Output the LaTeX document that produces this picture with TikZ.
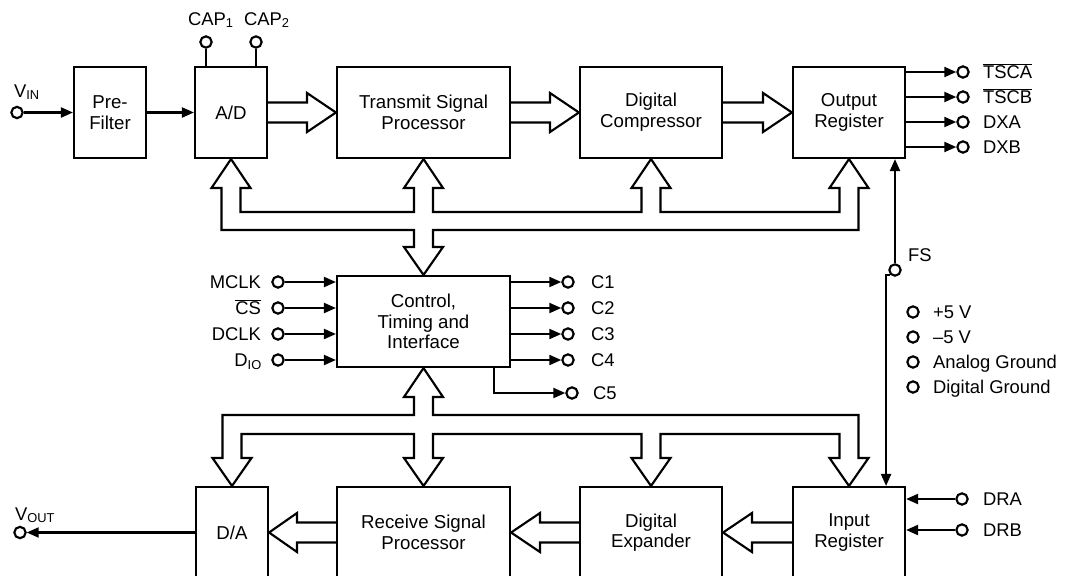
\documentclass[tikz,border=0pt]{standalone}
\usepackage{fontspec}
\setmainfont{Liberation Sans}
\usetikzlibrary{arrows.meta,calc}
\tikzset{every picture/.style={line width=1.6pt}}
\tikzset{
  blk/.style={draw, align=center, inner sep=0pt, minimum height=68.25pt, font=\fontsize{14}{15.5}\selectfont},
  pad/.style={circle, draw, fill=white, inner sep=0pt, minimum size=8.5pt},
  lbl/.style={inner sep=0pt, font=\fontsize{13.8}{15}\selectfont},
  sig/.style={-{Triangle[length=9pt,width=7.5pt]}},
}

\begin{document}
\begin{tikzpicture}[x=0.75pt,y=0.75pt,yscale=-1,xscale=1]
\useasboundingbox (0,0) rectangle (1070,575);
\clip (0,0) rectangle (1070,575);

%Shape: Rectangle -- transmit row
\draw (110,112.5) node (pre) [blk, minimum width=54pt] {Pre-\\Filter};
\draw (231,112.5) node (ad) [blk, minimum width=54pt] {A/D};
\draw (423.5,112.5) node (tsp) [blk, minimum width=129.75pt] {Transmit Signal\\Processor};
\draw (651,112.5) node (dc) [blk, minimum width=106.5pt] {Digital\\Compressor};
\draw (849,112.5) node (or) [blk, minimum width=84pt] {Output\\Register};
%Shape: Rectangle -- control
\draw (423.5,321.5) node (cti) [blk, minimum width=129.75pt] {Control,\\Timing and\\Interface};
%Shape: Rectangle -- receive row
\draw (232,532.5) node (da) [blk, minimum width=54pt] {D/A};
\draw (423.5,532.5) node (rsp) [blk, minimum width=129.75pt] {Receive Signal\\Processor};
\draw (651,532.5) node (de) [blk, minimum width=106.5pt] {Digital\\Expander};
\draw (849,532.5) node (ir) [blk, minimum width=84pt] {Input\\Register};

%Shape: Circle -- pins
\node (vin) [pad] at (17,112.5) {};
\node (cap1) [pad] at (206,42) {};
\node (cap2) [pad] at (256,42) {};
\node (tsca) [pad] at (963,72) {};
\node (tscb) [pad] at (963,97) {};
\node (dxa) [pad] at (963,122) {};
\node (dxb) [pad] at (963,147) {};
\node (mclk) [pad] at (278,282) {};
\node (ncs) [pad] at (278,308) {};
\node (dclk) [pad] at (278,334) {};
\node (dio) [pad] at (278,360) {};
\node (c1) [pad] at (568,282) {};
\node (c2) [pad] at (568,308) {};
\node (c3) [pad] at (568,334) {};
\node (c4) [pad] at (568,360) {};
\node (c5) [pad] at (572,393) {};
\node (fs) [pad] at (895,270) {};
\node (vp) [pad] at (913,312) {};
\node (vm) [pad] at (913,337) {};
\node (agnd) [pad] at (913,362) {};
\node (dgnd) [pad] at (913,387) {};
\node (dra) [pad] at (962,499) {};
\node (drb) [pad] at (962,530) {};
\node (vout) [pad] at (20,532.5) {};

%Straight Lines
\draw [sig] (vin) -- (vin -| pre.west);
\draw [sig] (pre) -- (ad);
\draw (cap1) -- (cap1 |- ad.north);
\draw (cap2) -- (cap2 |- ad.north);
\draw [sig] (tsca -| or.east) -- (tsca);
\draw [sig] (tscb -| or.east) -- (tscb);
\draw [sig] (dxa -| or.east) -- (dxa);
\draw [sig] (dxb -| or.east) -- (dxb);
\draw [sig] (mclk) -- (mclk -| cti.west);
\draw [sig] (ncs) -- (ncs -| cti.west);
\draw [sig] (dclk) -- (dclk -| cti.west);
\draw [sig] (dio) -- (dio -| cti.west);
\draw [sig] (c1 -| cti.east) -- (c1);
\draw [sig] (c2 -| cti.east) -- (c2);
\draw [sig] (c3 -| cti.east) -- (c3);
\draw [sig] (c4 -| cti.east) -- (c4);
\draw [sig] ($(cti.south east)+(-17,0)$) |- (c5);
\draw [sig] (fs) -- (fs |- or.south);
\draw [sig] (fs.south west) -| ($(ir.north east)+(-20,0)$);
\draw [sig] (dra) -- (dra -| ir.east);
\draw [sig] (drb) -- (drb -| ir.east);
\draw [sig] (da.west |- vout) -- (vout);

%Shape: Hollow arrows -- data path
\draw (267,102.5) -- (307,102.5) -- (307,93) -- (tsp.west) -- (307,132) -- (307,122.5) -- (267,122.5);
\draw (510,102.5) -- (550,102.5) -- (550,93) -- (dc.west) -- (550,132) -- (550,122.5) -- (510,122.5);
\draw (722,102.5) -- (763,102.5) -- (763,93) -- (or.west) -- (763,132) -- (763,122.5) -- (722,122.5);
\draw (793,522.5) -- (752,522.5) -- (752,513) -- (de.east) -- (752,552) -- (752,542.5) -- (793,542.5);
\draw (580,522.5) -- (540,522.5) -- (540,513) -- (rsp.east) -- (540,552) -- (540,542.5) -- (580,542.5);
\draw (337,522.5) -- (297,522.5) -- (297,513) -- (da.east) -- (297,552) -- (297,542.5) -- (337,542.5);

%Shape: Bus -- upper
\draw (414,212) -- (414,188) -- (404,188) -- (tsp.south) -- (443,188) -- (433,188) -- (433,212)
  -- (641.5,212) -- (641.5,188) -- (631.5,188) -- (dc.south) -- (670.5,188) -- (660.5,188) -- (660.5,212)
  -- (839.5,212) -- (839.5,188) -- (829.5,188) -- (or.south) -- (868.5,188) -- (858.5,188) -- (858.5,230)
  -- (433,230) -- (433,247) -- (443,247) -- (cti.north) -- (404,247) -- (414,247) -- (414,230)
  -- (221.5,230) -- (221.5,188) -- (211.5,188) -- (ad.south) -- (250.5,188) -- (240.5,188) -- (240.5,212) -- cycle;
%Shape: Bus -- lower
\draw (414,415) -- (414,397) -- (404,397) -- (cti.south) -- (443,397) -- (433,397) -- (433,415)
  -- (858.5,415) -- (858.5,458) -- (868.5,458) -- (ir.north) -- (829.5,458) -- (839.5,458) -- (839.5,434)
  -- (660.5,434) -- (660.5,458) -- (670.5,458) -- (de.north) -- (631.5,458) -- (641.5,458) -- (641.5,434)
  -- (433,434) -- (433,458) -- (443,458) -- (rsp.north) -- (404,458) -- (414,458) -- (414,434)
  -- (241.5,434) -- (241.5,458) -- (251.5,458) -- (da.north) -- (212.5,458) -- (222.5,458) -- (222.5,415) -- cycle;

% Text Node
\node (vinl) [lbl, anchor=base west] at (13,97) {V\textsubscript{IN}};
\node (cap1l) [lbl, anchor=base west] at (187,25) {CAP\textsubscript{1}};
\node (cap2l) [lbl, anchor=base west] at (243,25) {CAP\textsubscript{2}};
\node (tscal) [lbl, anchor=base west] at (982,78.5) {$\overline{\mbox{TSCA}}$};
\node (tscbl) [lbl, anchor=base west] at (982,103.5) {$\overline{\mbox{TSCB}}$};
\node (dxal) [lbl, anchor=base west] at (982,128.5) {DXA};
\node (dxbl) [lbl, anchor=base west] at (982,153.5) {DXB};
\node (mclkl) [lbl, anchor=base east] at (262,288.5) {MCLK};
\node (ncsl) [lbl, anchor=base east] at (262,314.5) {$\overline{\mbox{CS}}$};
\node (dclkl) [lbl, anchor=base east] at (262,340.5) {DCLK};
\node (diol) [lbl, anchor=base east] at (263,366.5) {D\textsubscript{IO}};
\node (c1l) [lbl, anchor=base west] at (590,288.5) {C1};
\node (c2l) [lbl, anchor=base west] at (590,314.5) {C2};
\node (c3l) [lbl, anchor=base west] at (590,340.5) {C3};
\node (c4l) [lbl, anchor=base west] at (590,366.5) {C4};
\node (c5l) [lbl, anchor=base west] at (592,399.5) {C5};
\node (fsl) [lbl, anchor=base west] at (907,261.5) {FS};
\node (vpl) [lbl, anchor=base west] at (932,318.5) {+5 V};
\node (vml) [lbl, anchor=base west] at (932,343.5) {--5 V};
\node (agndl) [lbl, anchor=base west] at (932,368.5) {Analog Ground};
\node (dgndl) [lbl, anchor=base west] at (932,393.5) {Digital Ground};
\node (dral) [lbl, anchor=base west] at (982,505.5) {DRA};
\node (drbl) [lbl, anchor=base west] at (982,536.5) {DRB};
\node (voutl) [lbl, anchor=base west] at (14,520) {V\textsubscript{OUT}};

\end{tikzpicture}
\end{document}
